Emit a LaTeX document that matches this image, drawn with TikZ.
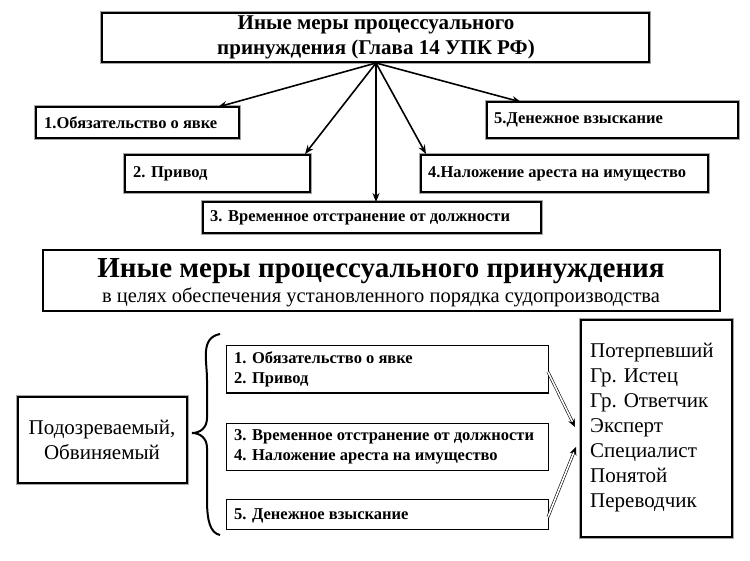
\documentclass[tikz,border=0pt]{standalone}
\usepackage{fontspec}
\setmainfont{Liberation Serif}
\newfontfamily\cond{Liberation Serif}
\usetikzlibrary{arrows.meta}
\begin{document}
\begin{tikzpicture}[x=1pt,y=-1pt,
  bx/.style={draw=black,line width=1.3pt,preaction={draw=gray!70,line width=3.2pt},fill=white},
  sb/.style={draw=black,line width=1pt,fill=white},
  arr/.style={-{Stealth[length=9pt,width=7pt]},line width=1.6pt},
  darr/.style={double,double distance=1.6pt,line width=0.6pt,-{Stealth[length=8pt,width=7pt]}},
  t/.style={font=\cond\bfseries\fontsize{16.5}{20}\selectfont,anchor=west,inner sep=0}]
\useasboundingbox (0,0) rectangle (750,561);
% top
\draw[bx] (102,13) rectangle (649,62);
\node[font=\cond\bfseries\fontsize{21}{25}\selectfont,align=center] (top) at (376,37) {Иные меры процессуального\\принуждения (Глава 14 УПК РФ)};
\coordinate (o) at (376,63);
\draw[bx] (36,107) rectangle (239,138); \node[t] (b1) at (44,122.5) {1.Обязательство о явке};
\draw[bx] (125,155) rectangle (310,192); \node[t] (b2) at (133,174) {2. Привод};
\draw[bx] (203,202) rectangle (541,233); \node[t] (b3) at (210,218) {3. Временное отстранение от должности};
\draw[bx] (421,155) rectangle (708,192); \node[t] (b4) at (428,174) {4.Наложение ареста на имущество};
\draw[bx] (487,102) rectangle (738,138); \node[t] (b5) at (494,120) {5.Денежное взыскание};
\coordinate (t1) at (218,107); \coordinate (t2) at (305,154); \coordinate (t3) at (376,202);
\coordinate (t4) at (426,154); \coordinate (t5) at (521,102);
\foreach \i in {1,...,5} \draw[arr] (o) -- (t\i);
% bottom title
\draw[black,line width=1.8pt,fill=white] (43,250) rectangle (720,311);
\node[font=\cond\bfseries\fontsize{29}{31}\selectfont] (bt) at (381,271) {Иные меры процессуального принуждения};
\node[font=\cond\fontsize{20.5}{22}\selectfont] (bs) at (381,297) {в целях обеспечения установленного порядка судопроизводства};
% left
\draw[bx] (18,397) rectangle (187,483);
\node[font=\cond\fontsize{21}{25}\selectfont,align=center] (L) at (102,440) {Подозреваемый,\\Обвиняемый};
% brace
\draw[line width=2pt] (220,334) .. controls (200,338) and (207,360) .. (207,380) -- (207,418) .. controls (207,428) and (200,433) .. (192,433) .. controls (200,433) and (207,438) .. (207,448) -- (207,500) .. controls (207,520) and (210,533) .. (220,535);
% items
\draw[sb] (226,346) rectangle (548,393);
\node[t,align=left] (i1) at (234,369.5) {1. Обязательство о явке\\2. Привод};
\draw[sb] (226,423) rectangle (548,470);
\node[t,align=left] (i2) at (234,446.5) {3. Временное отстранение от должности\\4. Наложение ареста на имущество};
\draw[sb] (226,499) rectangle (548,529);
\node[t] (i3) at (234,516) {5. Денежное взыскание};
% right
\draw[bx,line width=1.8pt] (581,320) rectangle (732,537);
\node[font=\cond\fontsize{21}{25}\selectfont,align=left,anchor=north west,inner sep=0] (R) at (590,343) {Потерпевший\\Гр. Истец\\Гр. Ответчик\\Эксперт\\Специалист\\Понятой\\Переводчик};
\coordinate (a1) at (548,372); \coordinate (a2) at (575,427);
\coordinate (a3) at (548,517); \coordinate (a4) at (576,447);
\draw[darr] (a1) -- (a2);
\draw[darr] (a3) -- (a4);
\end{tikzpicture}
\end{document}
